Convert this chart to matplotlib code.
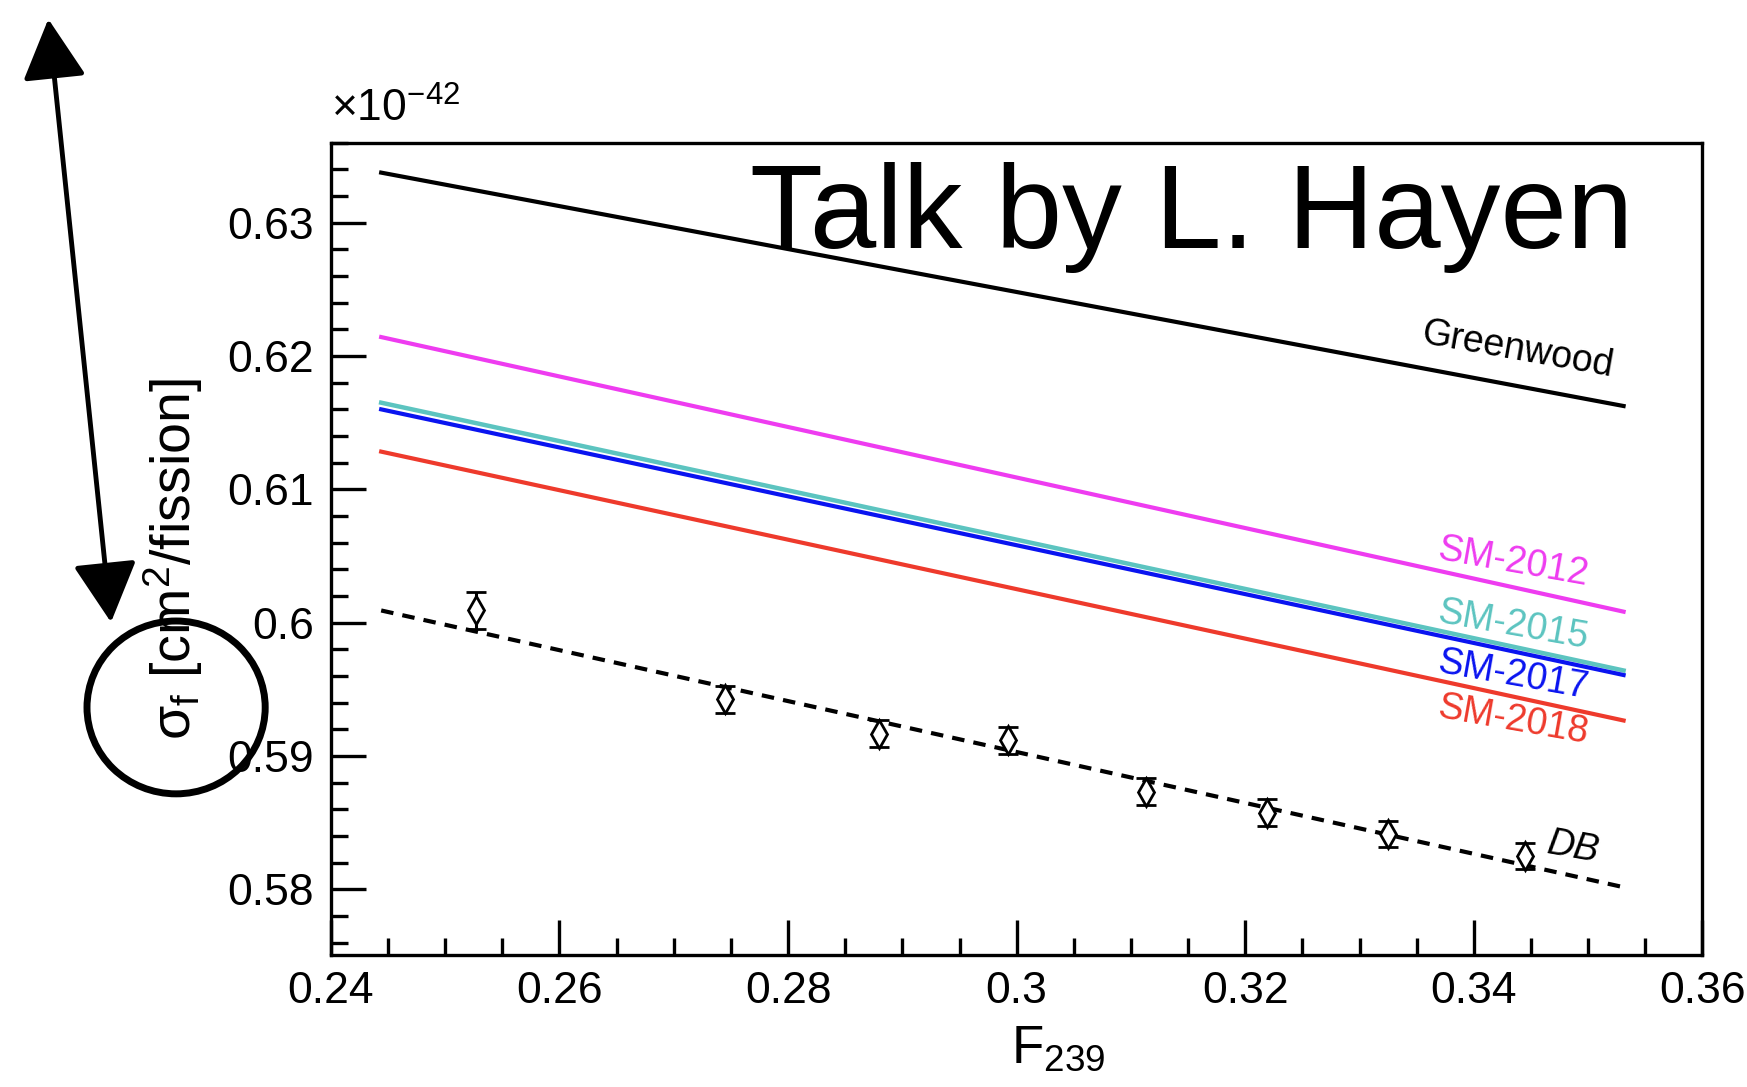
import numpy as np
import matplotlib
matplotlib.use("Agg")
import matplotlib.pyplot as plt
from matplotlib.patches import Ellipse, FancyArrowPatch

plt.rcParams['font.family'] = ['Liberation Sans', 'DejaVu Sans']
plt.rcParams['mathtext.fontset'] = 'custom'
plt.rcParams['mathtext.rm'] = 'Liberation Sans'
plt.rcParams['mathtext.it'] = 'Liberation Sans:italic'
plt.rcParams['mathtext.sf'] = 'Liberation Sans'

# model lines: value at F239 start / end (units of 1e-42 cm2/fission)
f_range = [0.2444, 0.3531]
greenwood = [0.63375, 0.61625]
sm2012 = [0.62142, 0.60083]
sm2015 = [0.6165, 0.59642]
sm2017 = [0.6160, 0.59608]
sm2018 = [0.61283, 0.59267]
db_fit = [0.60092, 0.58017]

# Daya Bay points
f239 = [0.25267, 0.27450, 0.28795, 0.29926, 0.31135, 0.32187, 0.33250, 0.34448]
sigma = [0.60092, 0.59425, 0.59167, 0.59117, 0.58733, 0.58575, 0.58417, 0.58250]
sigma_err = [0.0014, 0.0010, 0.0010, 0.0010, 0.0010, 0.0010, 0.0010, 0.0010]

xticks = [0.24, 0.26, 0.28, 0.30, 0.32, 0.34, 0.36]
xtick_labels = ["0.24", "0.26", "0.28", "0.3", "0.32", "0.34", "0.36"]
yticks = [0.58, 0.59, 0.60, 0.61, 0.62, 0.63]
ytick_labels = ["0.58", "0.59", "0.6", "0.61", "0.62", "0.63"]

fig = plt.figure(figsize=(17.47, 10.87), dpi=100)
ax = fig.add_axes([0.1894, 0.1216, 0.7851, 0.7472])

ax.plot(f_range, greenwood, color='black', lw=3)
ax.plot(f_range, sm2012, color='#ee3cf0', lw=3)
ax.plot(f_range, sm2015, color='#5cc4c0', lw=3.2)
ax.plot(f_range, sm2017, color='#0a14f0', lw=3)
ax.plot(f_range, sm2018, color='#ee3a2c', lw=3)
ax.plot(f_range, db_fit, color='black', lw=3, linestyle=(0, (3, 2.2)))

ax.errorbar(f239, sigma, yerr=sigma_err, fmt='d', mfc='white', mec='black',
            mew=2, ms=14, ecolor='black', elinewidth=2.2, capsize=7,
            capthick=2.5, zorder=5)

lbl = dict(ha='center', va='center', rotation=-10, fontsize=27)
ax.text(0.3438, 0.62042, "Greenwood", color='black', **lbl)
ax.text(0.3434, 0.6045, "SM-2012", color='#ee3cf0', **lbl)
ax.text(0.3434, 0.59983, "SM-2015", color='#5cc4c0', **lbl)
ax.text(0.3434, 0.59608, "SM-2017", color='#0a14f0', **lbl)
ax.text(0.3434, 0.59267, "SM-2018", color='#ee3a2c', **lbl)
ax.text(0.34867, 0.58317, "DB", color='black', ha='center', va='center',
        rotation=-10, fontsize=27, style='italic')

ax.set_xlim(0.24, 0.36)
ax.set_ylim(0.5751, 0.6359)
ax.set_xticks(xticks)
ax.set_xticklabels(xtick_labels)
ax.set_yticks(yticks)
ax.set_yticklabels(ytick_labels)
ax.set_xticks(np.arange(0.245, 0.36, 0.005), minor=True)
ax.set_yticks(np.arange(0.576, 0.636, 0.002), minor=True)
ax.tick_params(which='both', direction='in', width=2.4, labelsize=32,
               top=False, right=False)
ax.tick_params(which='major', length=25, pad=12)
ax.tick_params(which='minor', length=12)
for s in ax.spines.values():
    s.set_linewidth(2.4)

ax.set_xlabel(r"F$_{239}$", fontsize=38, labelpad=8)
ax.xaxis.set_label_coords(0.53, -0.085)
ax.set_ylabel("σ$_{\\mathregular{f}}$ [cm$^{2}$/fission]", fontsize=40)
ax.yaxis.set_label_coords(-0.092, 0.487)

fig.text(0.1894, 0.880, r"$\times$10$^{-42}$", fontsize=32, ha='left', va='bottom')

fig.text(0.6823, 0.800, "Talk by L. Hayen", fontsize=86, ha='center', va='center')

# hand drawn annotations
fig.patches.append(Ellipse((0.1008, 0.3492), 0.102, 0.159, transform=fig.transFigure,
                           fill=False, lw=5, color='black'))
fig.patches.append(FancyArrowPatch((0.0275, 0.985), (0.0637, 0.425),
                                   transform=fig.transFigure,
                                   arrowstyle='<|-|>,head_length=1.7,head_width=0.9',
                                   mutation_scale=22, lw=3.5, color='black'))

fig.savefig("out.png", dpi=100)
